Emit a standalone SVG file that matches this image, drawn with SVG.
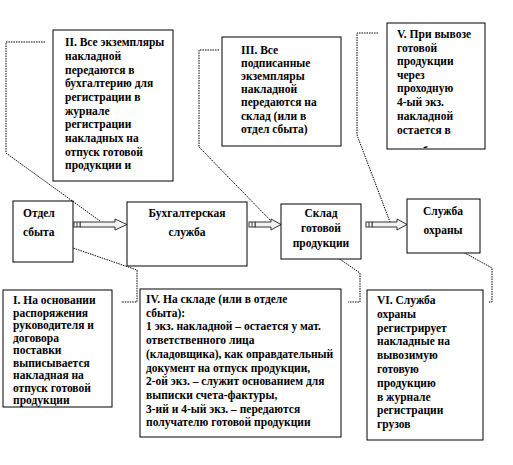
<svg xmlns="http://www.w3.org/2000/svg" width="513" height="465" viewBox="0 0 513 465">
<style>
.box{fill:#fff;stroke:#000;stroke-width:1}
.t{font-size:11.5px;font-weight:bold;fill:#000}
.c{stroke:#000;stroke-width:1;fill:none;stroke-dasharray:1.5 1}
.arr{fill:#f2f2f2;stroke:#333;stroke-width:1}
.mid{text-anchor:middle}
</style>
<defs>
<clipPath id="clipV"><rect x="387" y="23" width="98" height="125"/></clipPath>
</defs>
<rect width="513" height="465" fill="#fff"/>

<g id="connectors">
  <polyline class="c" points="45,42 6,42 6,153 100,221"/>
  <polyline class="c" points="219,50 199,50 199,147 272,222"/>
  <polyline class="c" points="378,33 357,33 357,135 390,222"/>
  <polyline class="c" points="62,243 73,248 137,270 137,302 121,302"/>
  <polyline class="c" points="325,249 360,273 360,302 348,302"/>
  <polyline class="c" points="435,238 463,252 492,268 492,302 488,302"/>
  <g id="arrow1">
    <polygon class="arr" points="80,222 115,222 115,219 127,224.5 115,230 115,227 80,227"/>
    <rect x="74" y="222" width="6" height="5" fill="#fff" stroke="#333"/>
    <line x1="77" y1="222" x2="77" y2="227" stroke="#333"/>
  </g>
  <g id="arrow2">
    <polygon class="arr" points="255,222 271,222 271,219 281,224.5 271,230 271,227 255,227"/>
    <rect x="249" y="222" width="6" height="5" fill="#fff" stroke="#333"/>
    <line x1="252" y1="222" x2="252" y2="227" stroke="#333"/>
  </g>
  <g id="arrow3">
    <polygon class="arr" points="372,222 397,222 397,219 407,224.5 397,230 397,227 372,227"/>
    <rect x="366" y="222" width="6" height="5" fill="#fff" stroke="#333"/>
    <line x1="369" y1="222" x2="369" y2="227" stroke="#333"/>
  </g>
</g>

<g font-family="Liberation Serif, Tinos, DejaVu Serif, serif">
<g id="otdel-sbyta">
  <rect class="box" x="13" y="201" width="60" height="61"/>
  <text class="t" x="23" y="217">Отдел</text>
  <text class="t" x="23" y="236">сбыта</text>
</g>
<g id="buhgalteriya">
  <rect class="box" x="127" y="202" width="120" height="64"/>
  <text class="t mid" x="187" y="217">Бухгалтерская</text>
  <text class="t mid" x="187" y="236">служба</text>
</g>
<g id="sklad">
  <rect class="box" x="281" y="204" width="80" height="55"/>
  <text class="t mid" x="321" y="217">Склад</text>
  <text class="t mid" x="321" y="232">готовой</text>
  <text class="t mid" x="321" y="247">продукции</text>
</g>
<g id="sluzhba-ohrany">
  <rect class="box" x="407" y="199" width="73" height="54"/>
  <text class="t mid" x="443" y="215">Служба</text>
  <text class="t mid" x="443" y="234">охраны</text>
</g>

<g id="note-II">
  <rect class="box" x="53" y="30" width="120" height="151"/>
  <text class="t" x="65" y="46">II. Все экземпляры</text>
  <text class="t" x="65" y="60">накладной</text>
  <text class="t" x="65" y="73.5">передаются в</text>
  <text class="t" x="65" y="87">бухгалтерию для</text>
  <text class="t" x="65" y="101">регистрации в</text>
  <text class="t" x="65" y="114.5">журнале</text>
  <text class="t" x="65" y="128">регистрации</text>
  <text class="t" x="65" y="142">накладных на</text>
  <text class="t" x="65" y="155.5">отпуск готовой</text>
  <text class="t" x="65" y="169">продукции и</text>
</g>
<g id="note-III">
  <rect class="box" x="222" y="37" width="119" height="109"/>
  <text class="t" x="241" y="54">III. Все</text>
  <text class="t" x="241" y="67">подписанные</text>
  <text class="t" x="241" y="80">экземпляры</text>
  <text class="t" x="241" y="93">накладной</text>
  <text class="t" x="241" y="106">передаются на</text>
  <text class="t" x="241" y="120">склад (или в</text>
  <text class="t" x="241" y="133">отдел сбыта)</text>
</g>
<g id="note-V">
  <rect class="box" x="387" y="23" width="98" height="126"/>
  <g clip-path="url(#clipV)">
  <text class="t" x="397" y="38">V. При вывозе</text>
  <text class="t" x="397" y="52">готовой</text>
  <text class="t" x="397" y="65">продукции</text>
  <text class="t" x="397" y="79">через</text>
  <text class="t" x="397" y="92">проходную</text>
  <text class="t" x="397" y="106">4-ый экз.</text>
  <text class="t" x="397" y="120">накладной</text>
  <text class="t" x="397" y="134">остается в</text>
  <text class="t" x="397" y="155">службе</text>
  </g>
</g>
<g id="note-I">
  <rect class="box" x="3" y="290" width="109" height="117"/>
  <text class="t" x="13" y="304">I. На основании</text>
  <text class="t" x="13" y="316.5">распоряжения</text>
  <text class="t" x="13" y="329">руководителя и</text>
  <text class="t" x="13" y="341.5">договора</text>
  <text class="t" x="13" y="354">поставки</text>
  <text class="t" x="13" y="366.5">выписывается</text>
  <text class="t" x="13" y="379">накладная на</text>
  <text class="t" x="13" y="391.5">отпуск готовой</text>
  <text class="t" x="13" y="404">продукции</text>
</g>
<g id="note-IV">
  <rect class="box" x="140" y="289" width="201" height="148"/>
  <text class="t" x="146" y="303">IV. На складе (или в отделе</text>
  <text class="t" x="146" y="316.7">сбыта):</text>
  <text class="t" x="146" y="330.4">1 экз. накладной – остается у мат.</text>
  <text class="t" x="146" y="344.1">ответственного лица</text>
  <text class="t" x="146" y="357.8">(кладовщика), как оправдательный</text>
  <text class="t" x="146" y="371.5">документ на отпуск продукции,</text>
  <text class="t" x="146" y="385.2">2-ой экз. – служит основанием для</text>
  <text class="t" x="146" y="398.9">выписки счета-фактуры,</text>
  <text class="t" x="146" y="412.6">3-ий и 4-ый экз. – передаются</text>
  <text class="t" x="146" y="426.3">получателю готовой продукции</text>
</g>
<g id="note-VI">
  <rect class="box" x="367" y="290" width="116" height="150"/>
  <text class="t" x="377" y="304">VI. Служба</text>
  <text class="t" x="377" y="317.8">охраны</text>
  <text class="t" x="377" y="331.6">регистрирует</text>
  <text class="t" x="377" y="345.4">накладные на</text>
  <text class="t" x="377" y="359.2">вывозимую</text>
  <text class="t" x="377" y="373">готовую</text>
  <text class="t" x="377" y="386.8">продукцию</text>
  <text class="t" x="377" y="400.6">в журнале</text>
  <text class="t" x="377" y="414.4">регистрации</text>
  <text class="t" x="377" y="428.2">грузов</text>
</g>
</g>
</svg>
